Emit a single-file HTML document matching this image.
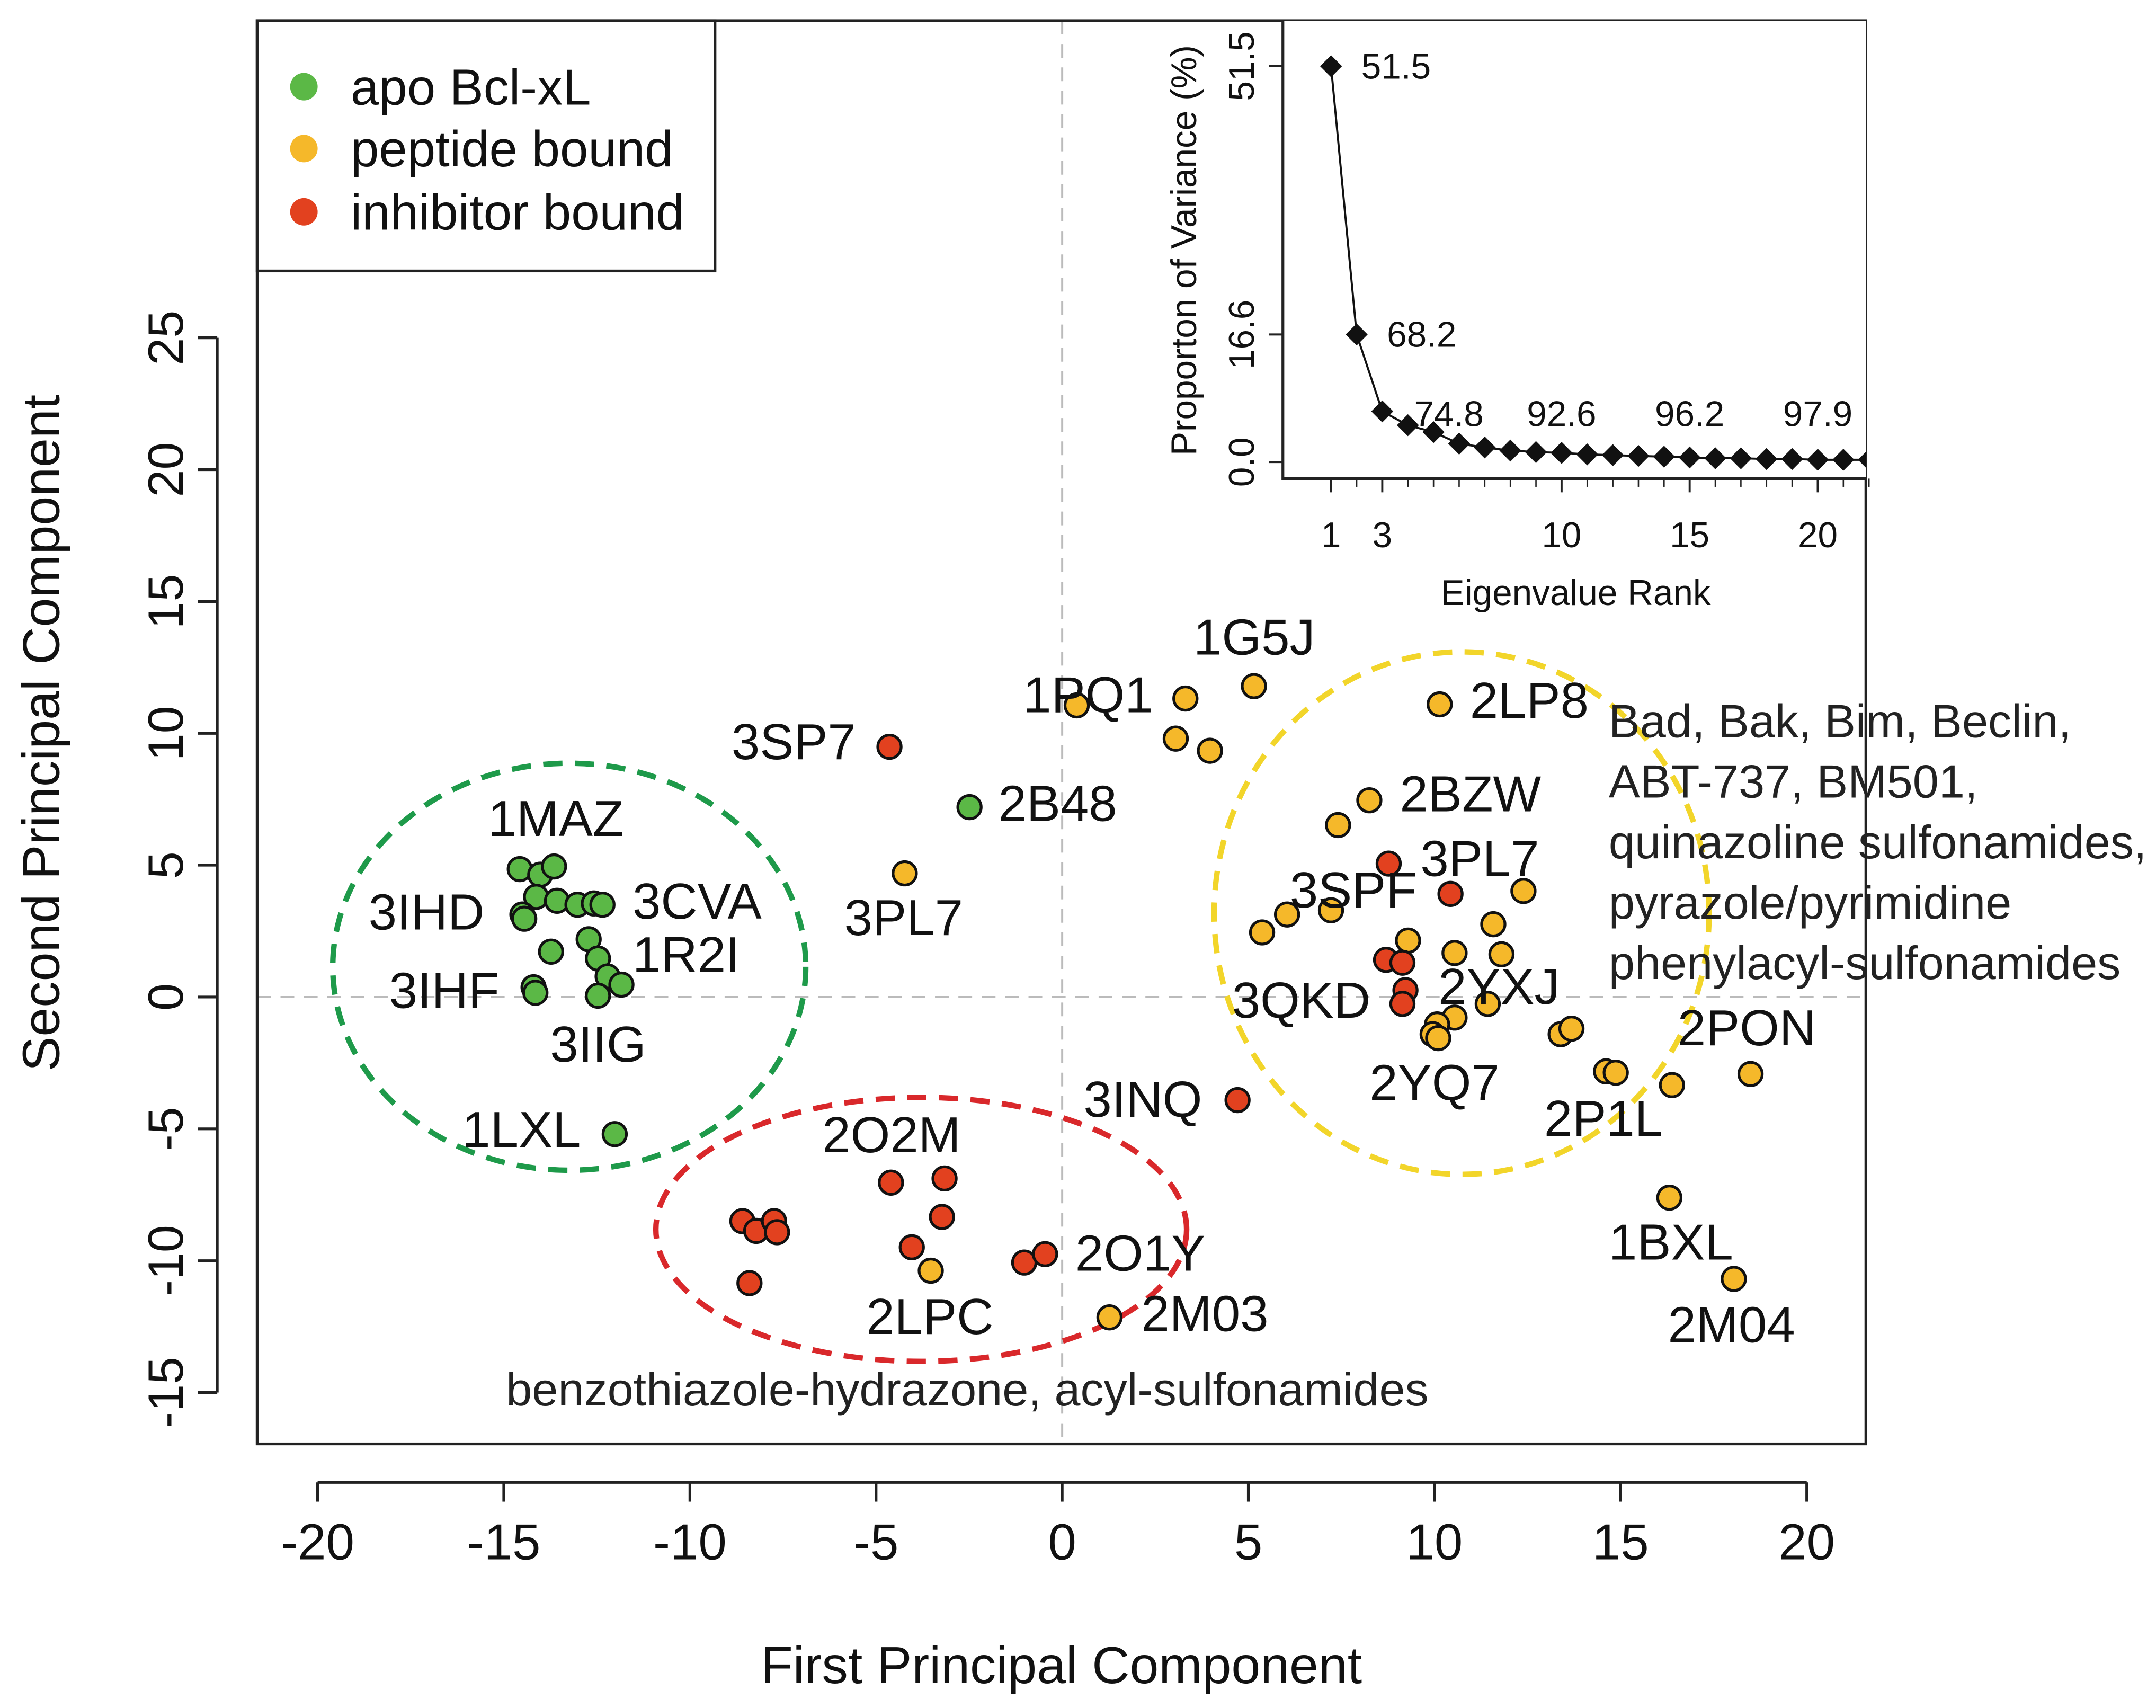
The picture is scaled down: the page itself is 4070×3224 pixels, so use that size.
<!DOCTYPE html>
<html><head><meta charset="utf-8"><style>html,body{margin:0;padding:0;background:#fff}svg{display:block}text{font-family:"Liberation Sans",sans-serif}</style></head>
<body>
<svg id="chart" width="4070" height="3224" viewBox="0 0 1568 1242" xmlns="http://www.w3.org/2000/svg">
<defs><clipPath id="insetClip"><rect x="933" y="15" width="424" height="333"/></clipPath></defs>
<g id="main"></g>
</svg>
<script>
const apoX=[-14.57,-14.02,-13.65,-14.13,-13.57,-13.02,-12.58,-12.35,-14.5,-14.45,-13.73,-12.72,-12.47,-12.21,-11.84,-14.2,-14.15,-12.47,-2.49,-12.02];
const apoY=[4.85,4.64,4.95,3.8,3.65,3.5,3.55,3.5,3.13,2.97,1.72,2.19,1.46,0.78,0.47,0.37,0.16,0.05,7.2,-5.2];
const pepX=[0.39,3.31,5.15,3.05,3.97,10.14,8.25,7.41,-4.23,5.37,6.04,7.22,12.39,11.58,9.29,10.54,11.8,11.43,10.54,10.07,9.95,10.1,13.39,13.68,14.61,14.87,16.38,18.49,16.31,18.04,-3.53,1.27];
const pepY=[11.06,11.32,11.79,9.8,9.34,11.1,7.46,6.52,4.69,2.45,3.13,3.29,4.02,2.76,2.14,1.67,1.62,-0.26,-0.78,-1.04,-1.41,-1.56,-1.41,-1.2,-2.82,-2.87,-3.34,-2.92,-7.61,-10.69,-10.38,-12.15];
const inhX=[-4.64,8.77,10.43,8.7,9.14,9.22,9.14,4.71,-4.6,-3.16,-3.23,-4.04,-8.59,-8.22,-7.74,-7.66,-8.4,-1.02,-0.46];
const inhY=[9.49,5.06,3.91,1.41,1.3,0.26,-0.26,-3.91,-7.04,-6.88,-8.34,-9.49,-8.5,-8.87,-8.5,-8.92,-10.85,-10.07,-9.75];
const xTicks=[-20,-15,-10,-5,0,5,10,15,20];
const yTicks=[-15,-10,-5,0,5,10,15,20,25];
const ranks=[1,2,3,4,5,6,7,8,9,10,11,12,13,14,15,16,17,18,19,20,21,22,23];
const variance=[51.5,16.6,6.6,4.8,3.9,2.4,1.9,1.5,1.3,1.2,1.0,0.9,0.8,0.7,0.6,0.5,0.5,0.4,0.4,0.3,0.3,0.3,0.2];
const insetXTicks=[1,3,10,15,20];
const insetYTicks=[0.0,16.6,51.5];
const cumLabels=["51.5","68.2","74.8","92.6","96.2","97.9"];
const cumRanks=[1,2,5.6,10,15,20];

const NS="http://www.w3.org/2000/svg";
const g=document.getElementById('main');
function X(v){return 772.5+v*27.075;}
function Y(v){return 725-v*19.175;}
function IX(r){return 949.4+r*18.63;}
function IY(v){return 336-v*5.59;}
function mk(tag,attrs,txt,parent){const e=document.createElementNS(NS,tag);for(const k in attrs)e.setAttribute(k,attrs[k]);if(txt!==undefined&&txt!==null)e.textContent=txt;(parent||g).appendChild(e);return e;}

let e;
e=mk('line',{x1:X(0),x2:X(0),y1:15,y2:1050,stroke:'#bbb','stroke-width':1.5,'stroke-dasharray':'10,7'});


e=mk('line',{x1:187,x2:1357,y1:Y(0),y2:Y(0),stroke:'#bbb','stroke-width':1.5,'stroke-dasharray':'10,7'});


e=mk('ellipse',{cx:414,cy:703,rx:172,ry:148,fill:'none',stroke:'#1e9a4a','stroke-width':4,'stroke-dasharray':'14,9'});


e=mk('ellipse',{cx:670,cy:894,rx:193,ry:96,fill:'none',stroke:'#d9282b','stroke-width':4,'stroke-dasharray':'14,9'});


e=mk('ellipse',{cx:1063,cy:664,rx:180,ry:190,fill:'none',stroke:'#f2d52a','stroke-width':4,'stroke-dasharray':'14,9'});


function pts(xs,ys,col,name){for(let i=0;i<xs.length;i++){e=mk('circle',{cx:X(xs[i]),cy:Y(ys[i]),r:8.5,fill:col,stroke:'#111','stroke-width':2});

}}
pts(apoX,apoY,'#5bb846','apo-point');
pts(pepX,pepY,'#f5b82a','peptide-point');
pts(inhX,inhY,'#e2411f','inhibitor-point');
const labs=[["1MAZ",355,608],["3IHD",268,676],["3CVA",460,668],["1R2I",460,707],["3IHF",283,733],["3IIG",400,772],["1LXL",336,834],["3SP7",532,552],["2B48",726,597],["3PL7",614,680],["1PQ1",744,518],["1G5J",868,476],["2LP8",1069,522],["2BZW",1018,590],["3PL7",1033,637],["3SPF",938,660],["3QKD",896,740],["2YXJ",1046,730],["2YQ7",996,800],["2PON",1220,760],["2P1L",1123,826],["3INQ",788,812],["2O2M",598,838],["2O1Y",782,924],["2LPC",630,970],["2M03",830,968],["1BXL",1170,916],["2M04",1213,976]];
for(const l of labs){e=mk('text',{x:l[1],y:l[2],'font-size':37,fill:'#111'},l[0]);

}
const ann=["Bad, Bak, Bim, Beclin,","ABT-737, BM501,","quinazoline sulfonamides,","pyrazole/pyrimidine","phenylacyl-sulfonamides"];
ann.forEach((t,i)=>{e=mk('text',{x:1170,y:536+i*44,'font-size':34,fill:'#222'},t);

});
e=mk('text',{x:368,y:1022,'font-size':34,fill:'#222'},'benzothiazole-hydrazone, acyl-sulfonamides');


e=mk('rect',{x:187,y:15,width:1170,height:1035,fill:'none',stroke:'#222','stroke-width':2});


e=mk('line',{x1:X(-20),x2:X(20),y1:1078,y2:1078,stroke:'#222','stroke-width':2});


xTicks.forEach(t=>{e=mk('line',{x1:X(t),x2:X(t),y1:1078,y2:1092,stroke:'#222','stroke-width':2});


e=mk('text',{x:X(t),y:1134,'font-size':37,'text-anchor':'middle',fill:'#111'},String(t));

});
e=mk('line',{x1:158,x2:158,y1:Y(-15),y2:Y(25),stroke:'#222','stroke-width':2});


yTicks.forEach(t=>{e=mk('line',{x1:144,x2:158,y1:Y(t),y2:Y(t),stroke:'#222','stroke-width':2});


e=mk('text',{x:0,y:0,'font-size':36,'text-anchor':'middle',fill:'#111',transform:`translate(133,${Y(t)}) rotate(-90)`},String(t));

});
e=mk('text',{x:772,y:1224,'font-size':38,'text-anchor':'middle',fill:'#111'},'First Principal Component');


e=mk('text',{x:0,y:0,'font-size':38,'text-anchor':'middle',fill:'#111',transform:'translate(43,533) rotate(-90)'},'Second Principal Component');


e=mk('rect',{x:187,y:15,width:333,height:182,fill:'#fff',stroke:'#222','stroke-width':2});


[["apo Bcl-xL",'#5bb846',63],["peptide bound",'#f5b82a',108],["inhibitor bound",'#e2411f',154]].forEach(l=>{
e=mk('circle',{cx:221,cy:l[2],r:10,fill:l[1]});


e=mk('text',{x:255,y:l[2]+13,'font-size':37,fill:'#111'},l[0]);

});
// inset
e=mk('rect',{x:933,y:15,width:424,height:333,fill:'#fff'});


e=mk('polyline',{points:'933,15 933,348 1357,348',fill:'none',stroke:'#222','stroke-width':2});


insetXTicks.forEach(t=>{e=mk('line',{x1:IX(t),x2:IX(t),y1:348,y2:358,stroke:'#222','stroke-width':1.5});


e=mk('text',{x:IX(t),y:398,'font-size':26,'text-anchor':'middle',fill:'#111'},String(t));

});
[2,4,5,6,7,8,9,11,12,13,14,16,17,18,19,21,22].forEach(t=>{e=mk('line',{x1:IX(t),x2:IX(t),y1:348,y2:354,stroke:'#222','stroke-width':1});

});
insetYTicks.forEach(t=>{e=mk('line',{x1:923,x2:933,y1:IY(t),y2:IY(t),stroke:'#222','stroke-width':1.5});


e=mk('text',{x:0,y:0,'font-size':26,'text-anchor':'middle',fill:'#111',transform:`translate(912,${IY(t)}) rotate(-90)`},t.toFixed(1));

});
e=mk('text',{x:1146,y:440,'font-size':26,'text-anchor':'middle',fill:'#111'},'Eigenvalue Rank');


e=mk('text',{x:0,y:0,'font-size':26,'text-anchor':'middle',fill:'#111',transform:'translate(870,182) rotate(-90)'},'Proporton of Variance (%)');


const ig=mk('g',{'clip-path':'url(#insetClip)'});


e=mk('polyline',{points:ranks.map((r,i)=>IX(r)+','+IY(variance[i])).join(' '),fill:'none',stroke:'#111','stroke-width':1.5},null,ig);


ranks.forEach((r,i)=>{const cx=IX(r),cy=IY(variance[i]);
e=mk('polygon',{points:`${cx},${cy-8} ${cx+8},${cy} ${cx},${cy+8} ${cx-8},${cy}`,fill:'#111'},null,ig);

});
cumLabels.forEach((s,i)=>{const r=cumRanks[i];const v=variance[Math.round(r)-1];
e=mk('text',{x:IX(r)+(i<2?22:0),y:i<2?IY(v)+9:310,'font-size':26,fill:'#111','text-anchor':i<2?'start':'middle'},s);

});
</script>
</body></html>
